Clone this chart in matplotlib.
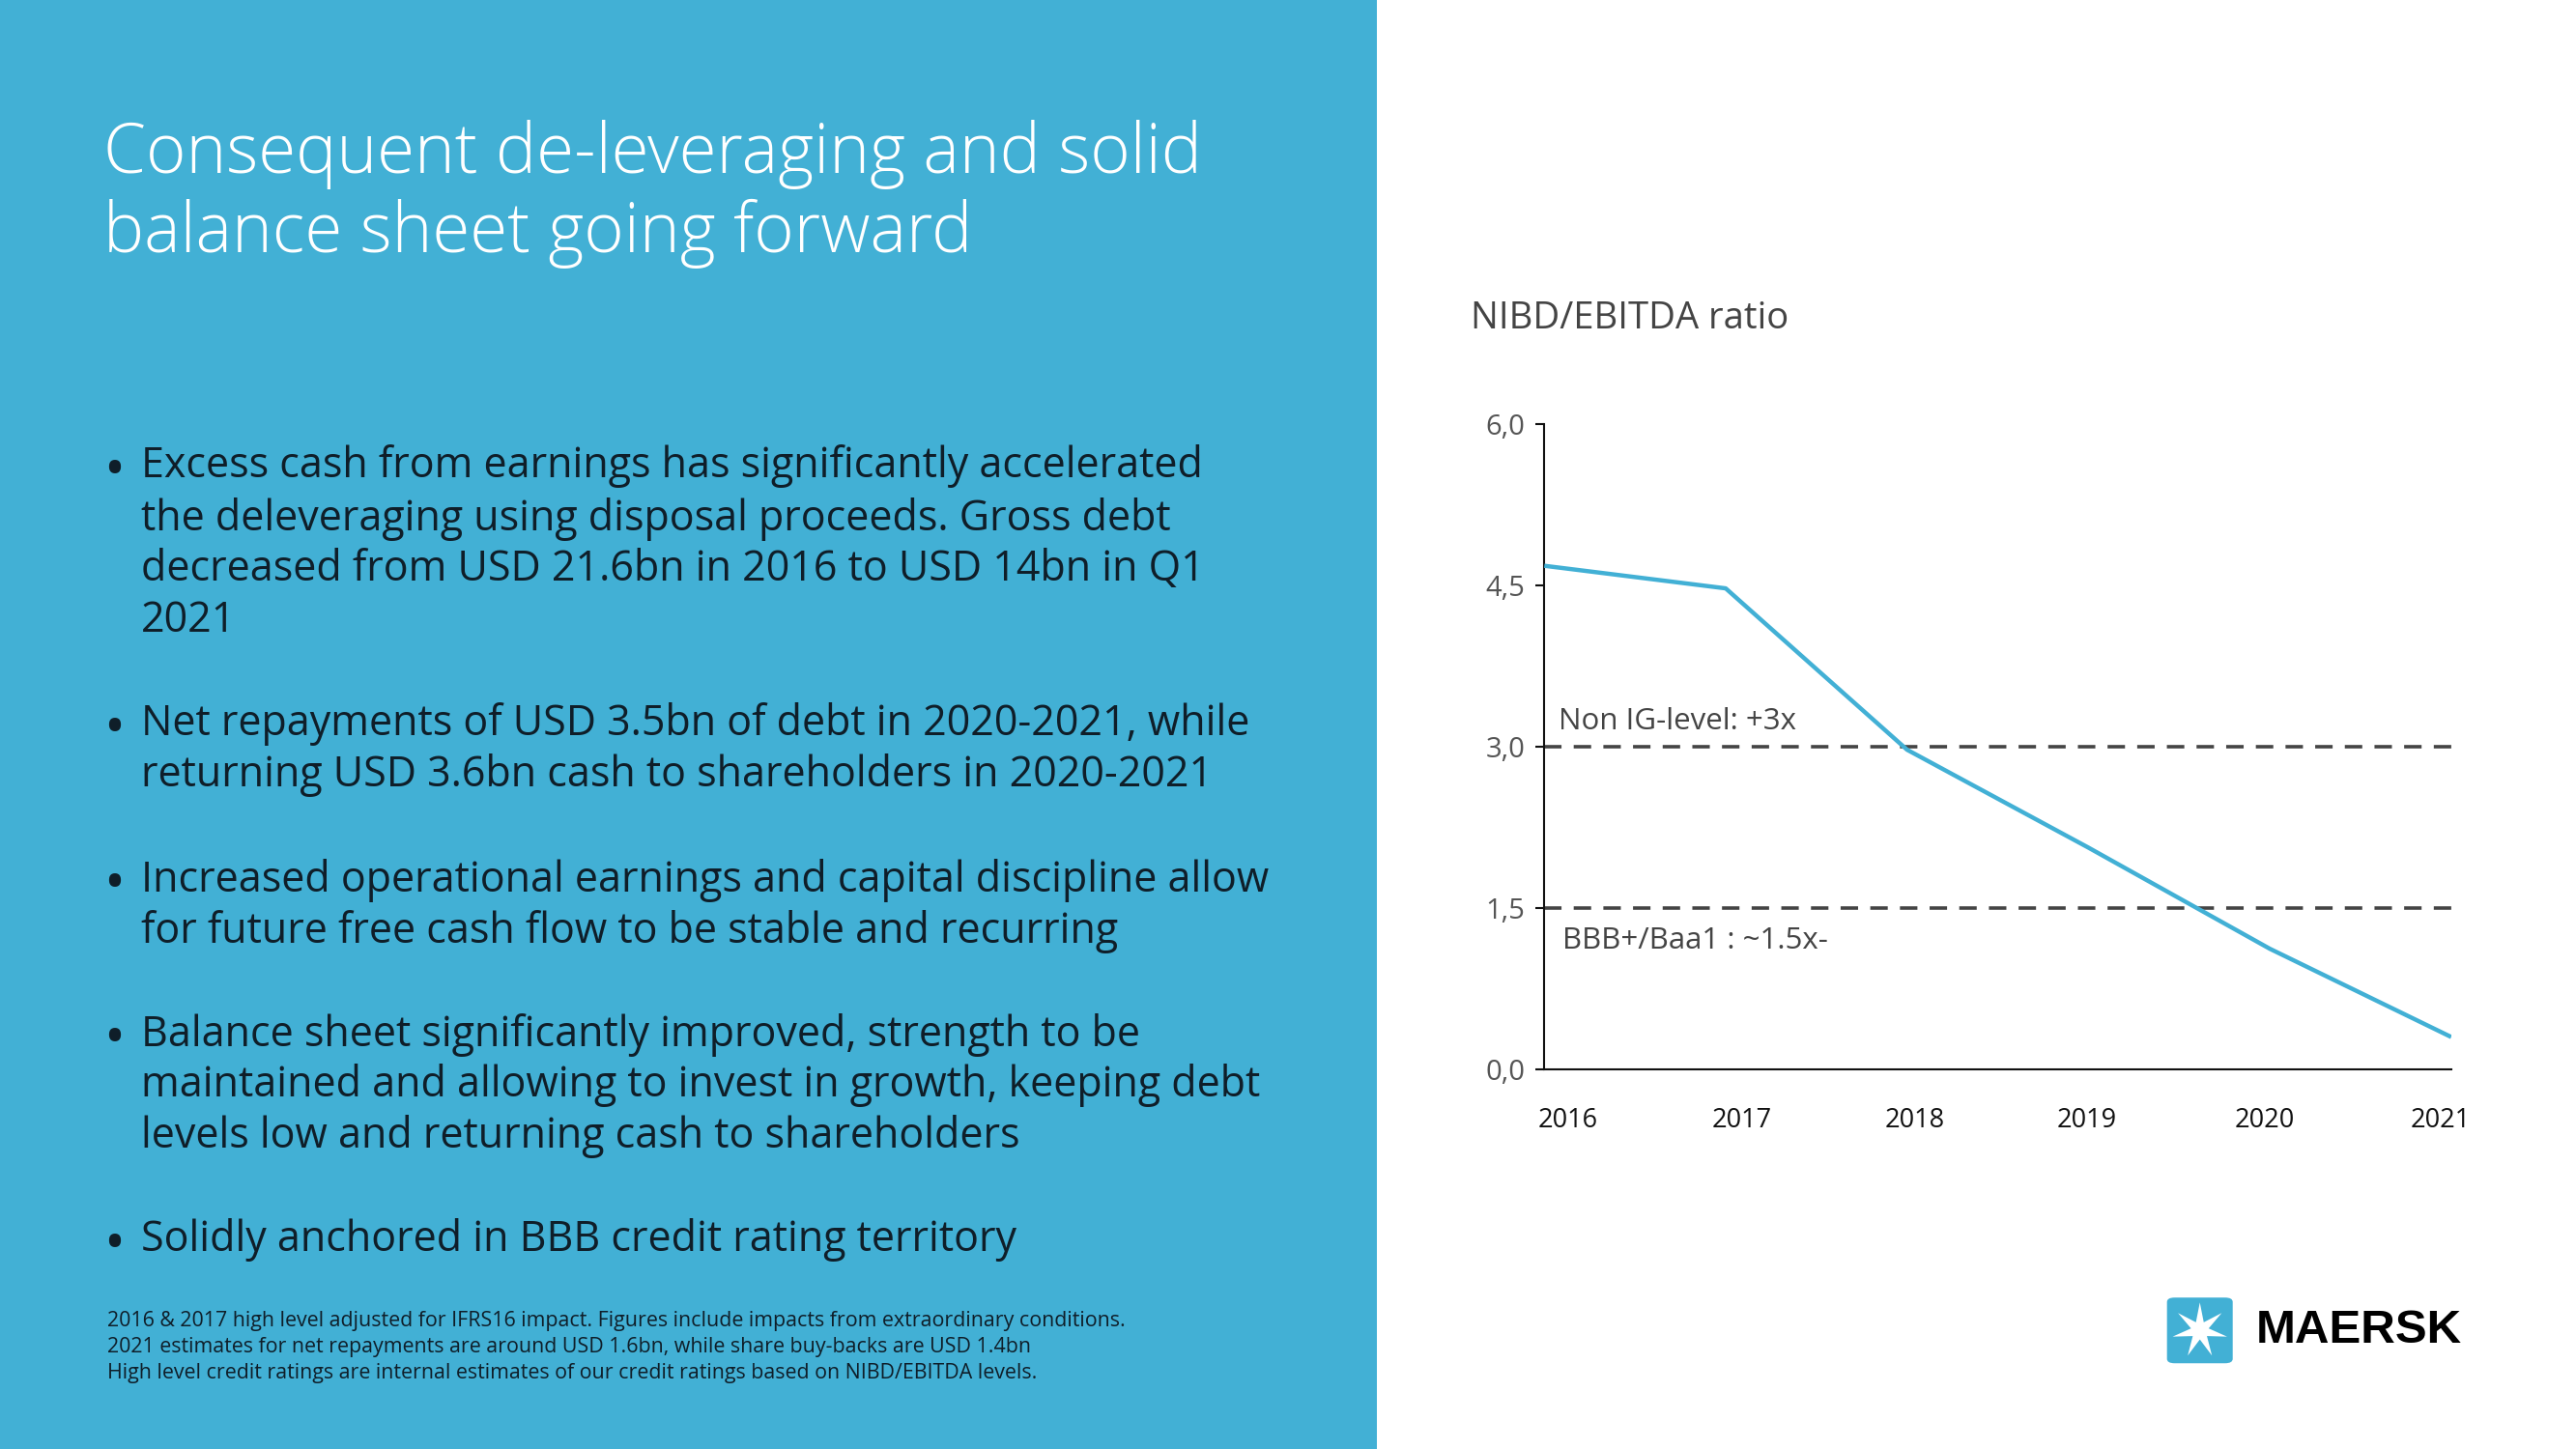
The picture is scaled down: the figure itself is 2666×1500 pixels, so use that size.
import matplotlib
matplotlib.use("Agg")
import matplotlib.pyplot as plt
from matplotlib.patches import Rectangle, FancyBboxPatch, Polygon
import numpy as np

# ---- data ----
years = ["2016", "2017", "2018", "2019", "2020", "2021"]
ratio = [4.68, 4.47, 2.97, 2.06, 1.12, 0.30]
yticks = [0.0, 1.5, 3.0, 4.5, 6.0]
ytick_labels = ["0,0", "1,5", "3,0", "4,5", "6,0"]
thresholds = [3.0, 1.5]
threshold_labels = ["Non IG-level: +3x", "BBB+/Baa1 : ~1.5x-"]

title_lines = ["Consequent de-leveraging and solid", "balance sheet going forward"]
bullets = [
    ["Excess cash from earnings has significantly accelerated",
     "the deleveraging using disposal proceeds. Gross debt",
     "decreased from USD 21.6bn in 2016 to USD 14bn in Q1",
     "2021"],
    ["Net repayments of USD 3.5bn of debt in 2020-2021, while",
     "returning USD 3.6bn cash to shareholders in 2020-2021"],
    ["Increased operational earnings and capital discipline allow",
     "for future free cash flow to be stable and recurring"],
    ["Balance sheet significantly improved, strength to be",
     "maintained and allowing to invest in growth, keeping debt",
     "levels low and returning cash to shareholders"],
    ["Solidly anchored in BBB credit rating territory"],
]
footnotes = [
    "2016 & 2017 high level adjusted for IFRS16 impact. Figures include impacts from extraordinary conditions.",
    "2021 estimates for net repayments are around USD 1.6bn, while share buy-backs are USD 1.4bn",
    "High level credit ratings are internal estimates of our credit ratings based on NIBD/EBITDA levels.",
]

BLUE = "#42B0D5"
W, H = 2666, 1500
fig = plt.figure(figsize=(W / 100, H / 100), dpi=100)
fig.patch.set_facecolor("white")

def fx(x):  # shrunk-pixel x to figure fraction
    return x * 1.7003 / W

def fy(y):
    return 1 - y * 1.7003 / H

# blue panel
fig.patches.append(Rectangle((0, 0), fx(838), 1, transform=fig.transFigure,
                             facecolor=BLUE, edgecolor="none", zorder=0))

TEXT = "#0f1e29"
title_font = ["Open Sans", "DejaVu Sans"]
body_font = ["Open Sans", "DejaVu Sans"]

for i, t in enumerate(title_lines):
    fig.text(fx(63), fy(94 + 48 * i), t, color="white", fontsize=51,
             family=title_font, fontweight="light", va="center", ha="left")

line_y = [[284, 316, 347, 378], [441, 472], [536, 567], [630, 661, 692], [755]]
for blines, ys in zip(bullets, line_y):
    fig.text(fx(63), fy(ys[0] + 4), "•", color=TEXT, fontsize=42, family=body_font,
             va="center", ha="left")
    for t, y in zip(blines, ys):
        fig.text(fx(86), fy(y), t, color=TEXT, fontsize=31, family=body_font,
                 va="center", ha="left")

for i, t in enumerate(footnotes):
    fig.text(fx(65), fy(804 + 16 * i), t, color=TEXT, fontsize=15.4,
             family=body_font, va="center", ha="left")

# chart
ax = fig.add_axes([fx(940), fy(651), fx(1492) - fx(940), fy(258) - fy(651)])
ax.set_facecolor("none")
x = np.arange(len(years))
ax.plot(x, ratio, color=BLUE, lw=3.2, solid_capstyle="butt", zorder=3)
for th in thresholds:
    ax.axhline(th, color="#444444", lw=2.6, dashes=(5, 3.5), zorder=2)
ax.set_xlim(0, len(years) - 1)
ax.set_ylim(0, 6)
ax.set_yticks(yticks)
ax.set_yticklabels(ytick_labels)
ax.set_xticks([0.13, 1.09, 2.04, 2.99, 3.97, 4.94])
ax.set_xticklabels(years)
for s in ["top", "right"]:
    ax.spines[s].set_visible(False)
for s in ["left", "bottom"]:
    ax.spines[s].set_color("#111111")
    ax.spines[s].set_linewidth(1.5)
ax.tick_params(axis="y", length=6.5, width=1.5, color="#111111", labelsize=21,
               labelcolor="#555555", pad=8)
ax.tick_params(axis="x", length=0, labelsize=19.5, labelcolor="#111111", pad=28)
for lab in ax.get_yticklabels() + ax.get_xticklabels():
    lab.set_family(body_font)

ax.text(0.08, 3.1, threshold_labels[0], color="#444444", fontsize=22.5,
        family=body_font, va="bottom", ha="left")
ax.text(0.1, 1.33, threshold_labels[1], color="#444444", fontsize=22.5,
        family=body_font, va="top", ha="left")

fig.text(fx(895), fy(194), "NIBD/EBITDA ratio", color="#444444", fontsize=27.5,
         family=body_font, va="center", ha="left")

# logo
lx0, ly0, ls = 1319, 790, 40  # shrunk px
sq = FancyBboxPatch((fx(lx0), fy(ly0 + ls)), fx(ls), (ls * 1.7003) / H,
                    boxstyle="round,pad=0,rounding_size=0.003",
                    transform=fig.transFigure, facecolor=BLUE, edgecolor="none")
fig.patches.append(sq)
cx, cy = lx0 + ls / 2, ly0 + ls / 2
pts = []
for k in range(14):
    ang = np.pi / 2 + k * np.pi / 7
    r = 17 if k % 2 == 0 else 5.5
    pts.append((fx(cx + r * np.cos(ang)), fy(cy - r * np.sin(ang))))
fig.patches.append(Polygon(pts, closed=True, transform=fig.transFigure,
                           facecolor="white", edgecolor="none"))
fig.text(fx(1373), fy(810), "MAERSK", color="black", fontsize=35.5,
         family=["Liberation Sans", "DejaVu Sans"], fontweight="bold",
         va="center", ha="left")

fig.savefig("out.png", dpi=100, facecolor=fig.get_facecolor())
